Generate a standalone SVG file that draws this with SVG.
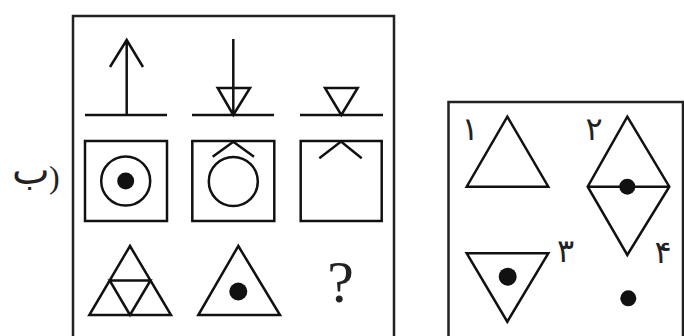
<svg xmlns="http://www.w3.org/2000/svg" width="684" height="336" viewBox="0 0 684 336">
<style>
.s{fill:none;stroke:#111;stroke-width:2.5;stroke-linejoin:miter}
.f{fill:#111}
.box{fill:#fff;stroke:#222;stroke-width:2.5}
.lbl{font-family:"DejaVu Sans",sans-serif;fill:#222}
</style>
<rect width="684" height="336" fill="#fff"/>
<g id="label-b"><text class="lbl" x="12" y="184" font-size="40">ب</text><text x="49" y="188" font-size="32" font-family="'Liberation Serif',serif" fill="#222">)</text></g>
<g id="question-box">
<path class="box" d="M73 340 V16 H394 V340"/>
<g id="arrow-up"><path class="s" d="M85 115 H167 M126.7 115 V40 M110 67 L126.7 40 L143 67"/></g>
<g id="arrow-down"><path class="s" d="M192 115 H274 M233.3 39 V115 M217.7 88 H250 L233.3 115 Z"/></g>
<g id="triangle-line"><path class="s" d="M300 115 H383 M325 88 H357.7 L341.3 115 Z"/></g>
<g id="sq1"><rect class="s" x="85" y="141" width="82" height="80"/><circle class="s" cx="125.7" cy="181" r="24.5"/><circle class="f" cx="125.7" cy="181" r="8.5"/></g>
<g id="sq2"><rect class="s" x="192.3" y="141" width="82" height="80"/><circle class="s" cx="233.3" cy="181.5" r="24.5"/><path class="s" d="M212.7 156.7 L233.3 141.7 L254 156.7"/></g>
<g id="sq3"><rect class="s" x="300.7" y="141" width="81" height="80"/><path class="s" d="M319.3 158.3 L341 141.5 L361.7 158.3"/></g>
<g id="tri-split"><path class="s" d="M130 246 L171 315 H89.3 Z M109.7 280.5 H150.5 L130 315 Z"/></g>
<g id="tri-dot"><path class="s" d="M238.3 246 L280 315 H198.3 Z"/><circle class="f" cx="238.3" cy="291.5" r="9"/></g>
<g id="question"><text x="340.5" y="302" font-size="60" font-family="'Liberation Serif',serif" text-anchor="middle" fill="#222">?</text></g>
</g>
<g id="answer-box">
<path class="box" d="M448.5 340 V102 H683 V340"/>
<g id="opt1"><path class="s" d="M507.3 116.7 L548.3 186.7 H466.7 Z"/><text class="lbl" x="470" y="140" font-size="32" text-anchor="middle">۱</text></g>
<g id="opt2"><path class="s" d="M627.3 116.7 L669.3 186.7 L627.3 255 L587.7 186.7 Z M587.7 186.7 H669.3"/><circle class="f" cx="627.3" cy="186.7" r="8"/><text class="lbl" x="594" y="140" font-size="32" text-anchor="middle">۲</text></g>
<g id="opt3"><path class="s" d="M466.7 253.3 H548.3 L507.3 321.7 Z"/><circle class="f" cx="507.7" cy="276.7" r="9"/><text class="lbl" x="565.5" y="262" font-size="32" text-anchor="middle">۳</text></g>
<g id="opt4"><circle class="f" cx="628.3" cy="298.3" r="8"/><text class="lbl" x="663" y="263" font-size="32" text-anchor="middle">۴</text></g>
</g>
<g id="connectors"/>
</svg>
